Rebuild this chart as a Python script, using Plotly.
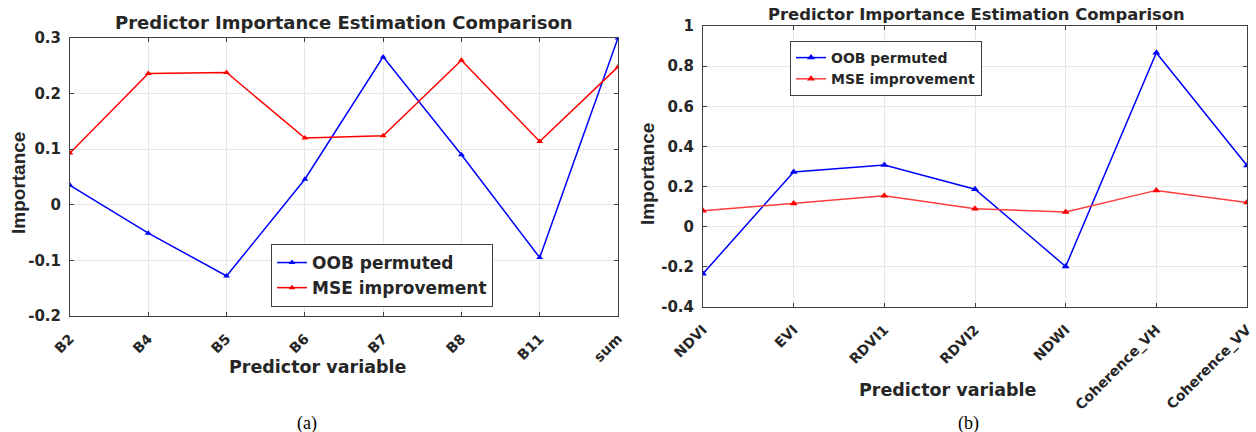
import plotly.graph_objects as go

# Panel (a)
cats_a = ["B2", "B4", "B5", "B6", "B7", "B8", "B11", "sum"]
oob_a = [0.035, -0.051, -0.128, 0.046, 0.266, 0.090, -0.095, 0.300]
mse_a = [0.093, 0.236, 0.238, 0.120, 0.124, 0.260, 0.114, 0.248]
yticks_a = [-0.2, -0.1, 0, 0.1, 0.2, 0.3]
ytext_a = ["-0.2", "-0.1", "0", "0.1", "0.2", "0.3"]

# Panel (b)
cats_b = ["NDVI", "EVI", "RDVI1", "RDVI2", "NDWI", "Coherence_VH", "Coherence_VV"]
oob_b = [-0.234, 0.273, 0.307, 0.187, -0.198, 0.867, 0.305]
mse_b = [0.079, 0.116, 0.154, 0.089, 0.073, 0.181, 0.121]
yticks_b = [-0.4, -0.2, 0, 0.2, 0.4, 0.6, 0.8, 1]
ytext_b = ["-0.4", "-0.2", "0", "0.2", "0.4", "0.6", "0.8", "1"]

FONT = "DejaVu Sans"
VFONT = "Liberation Sans"
TXT = "#262626"
BLUE = "#0000ff"
RED = "#ff0000"

def bold(lst):
    return ["<b>%s</b>" % s for s in lst]

fig = go.Figure()

fig.add_trace(go.Scatter(x=cats_a, y=oob_a, mode="lines+markers", name="<b>OOB permuted</b>",
                         line=dict(color=BLUE, width=1.5),
                         marker=dict(symbol="triangle-up", size=6, color=BLUE),
                         xaxis="x", yaxis="y", legend="legend"))
fig.add_trace(go.Scatter(x=cats_a, y=mse_a, mode="lines+markers", name="<b>MSE improvement</b>",
                         line=dict(color=RED, width=1.5),
                         marker=dict(symbol="triangle-up", size=6, color=RED),
                         xaxis="x", yaxis="y", legend="legend"))
fig.add_trace(go.Scatter(x=cats_b, y=oob_b, mode="lines+markers", name="<b>OOB permuted</b>",
                         line=dict(color=BLUE, width=1.5),
                         marker=dict(symbol="triangle-up", size=7, color=BLUE),
                         xaxis="x2", yaxis="y2", legend="legend2"))
fig.add_trace(go.Scatter(x=cats_b, y=mse_b, mode="lines+markers", name="<b>MSE improvement</b>",
                         line=dict(color="#ff3b3b", width=1.5),
                         marker=dict(symbol="triangle-up", size=7, color=RED),
                         xaxis="x2", yaxis="y2", legend="legend2"))

W, H = 1256, 432

def px_x(v):
    return v / W

def px_y(v):
    return 1 - v / H

axis_common = dict(showline=True, linecolor="#404040", linewidth=1, mirror="ticks",
                   ticks="inside", ticklen=4, tickcolor="#404040", automargin=False,
                   showgrid=True, gridcolor="#e6e6e6", gridwidth=1, zeroline=False)
ytf = dict(family=FONT, size=15, color=TXT)
xtf = dict(family=FONT, size=14, color=TXT)

fig.update_layout(
    width=W, height=H,
    margin=dict(l=0, r=0, t=0, b=0),
    paper_bgcolor="white", plot_bgcolor="white",
    font=dict(family=FONT, color=TXT),
    xaxis=dict(domain=[px_x(70), px_x(618)], anchor="y", type="category",
               range=[0, len(cats_a) - 1], tickangle=-45, ticklabelstandoff=8,
               tickvals=cats_a, ticktext=bold(cats_a), tickfont=xtf, **axis_common),
    yaxis=dict(domain=[px_y(316), px_y(38)], anchor="x", range=[-0.2, 0.3],
               ticklabelstandoff=5,
               tickvals=yticks_a, ticktext=bold(ytext_a), tickfont=ytf, **axis_common),
    xaxis2=dict(domain=[px_x(703), px_x(1247)], anchor="y2", type="category",
                range=[0, len(cats_b) - 1], tickangle=-45, ticklabelstandoff=8,
                tickvals=cats_b, ticktext=bold(cats_b), tickfont=xtf, **axis_common),
    yaxis2=dict(domain=[px_y(307), px_y(26)], anchor="x2", range=[-0.4, 1.0],
                ticklabelstandoff=5,
                tickvals=yticks_b, ticktext=bold(ytext_b), tickfont=ytf, **axis_common),
    legend=dict(x=px_x(271), y=px_y(244), xanchor="left", yanchor="top",
                bgcolor="white", bordercolor="#404040", borderwidth=1,
                font=dict(family=FONT, size=17, color=TXT), tracegroupgap=0),
    legend2=dict(x=px_x(790), y=px_y(41), xanchor="left", yanchor="top",
                 bgcolor="white", bordercolor="#404040", borderwidth=1,
                 font=dict(family=FONT, size=14, color=TXT), tracegroupgap=0),
)

annos = [
    dict(text="<b>Predictor Importance Estimation Comparison</b>", x=px_x(344), y=px_y(23),
         font=dict(family=FONT, size=18, color=TXT)),
    dict(text="<b>Predictor Importance Estimation Comparison</b>", x=px_x(976), y=px_y(14),
         font=dict(family=FONT, size=16.4, color=TXT)),
    dict(text="<b>Importance</b>", x=px_x(18), y=px_y(183), textangle=-90,
         font=dict(family=VFONT, size=19, color=TXT)),
    dict(text="<b>Importance</b>", x=px_x(647), y=px_y(174), textangle=-90,
         font=dict(family=VFONT, size=19, color=TXT)),
    dict(text="<b>Predictor variable</b>", x=px_x(318), y=px_y(367),
         font=dict(family=FONT, size=17.5, color=TXT)),
    dict(text="<b>Predictor variable</b>", x=px_x(948), y=px_y(390),
         font=dict(family=FONT, size=17.5, color=TXT)),
    dict(text="(a)", x=px_x(307), y=px_y(423),
         font=dict(family="Liberation Serif", size=18, color="black")),
    dict(text="(b)", x=px_x(968), y=px_y(423),
         font=dict(family="Liberation Serif", size=18, color="black")),
]
for a in annos:
    fig.add_annotation(xref="paper", yref="paper", showarrow=False,
                       xanchor="center", yanchor="middle", **a)

fig.write_html("out.html")
